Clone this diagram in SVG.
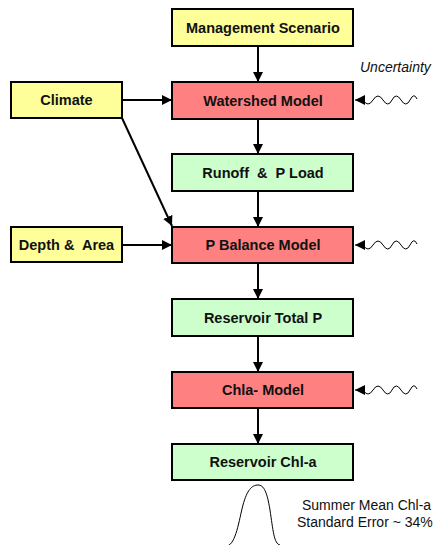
<svg xmlns="http://www.w3.org/2000/svg" width="436" height="545" viewBox="0 0 436 545">
  <style>
    .box { stroke: #000; stroke-width: 2; }
    .input { fill: #FFFF99; }
    .model { fill: #FF8080; }
    .output { fill: #CCFFCC; }
    .label { font-family: "Liberation Sans", Arial, sans-serif; font-weight: bold; font-size: 14.5px; fill: #111; text-anchor: middle; white-space: pre; }
    .note { font-family: "Liberation Sans", Arial, sans-serif; font-size: 14px; fill: #111; white-space: pre; }
    .edge { stroke: #000; stroke-width: 2; fill: none; }
    .wave { stroke: #000; stroke-width: 1; fill: none; }
  </style>
  <defs>
    <marker id="arrow" markerUnits="userSpaceOnUse" markerWidth="10" markerHeight="10" refX="10" refY="5" orient="auto" viewBox="0 0 10 10">
      <path d="M0,0 L10,5 L0,10 z" fill="#000"/>
    </marker>
  </defs>

  <rect width="436" height="545" fill="#fff"/>

  <!-- connectors -->
  <g id="connectors">
    <line class="edge" x1="258" y1="46" x2="258" y2="82" marker-end="url(#arrow)"/>
    <line class="edge" x1="258" y1="119" x2="258" y2="154" marker-end="url(#arrow)"/>
    <line class="edge" x1="258" y1="191" x2="258" y2="227" marker-end="url(#arrow)"/>
    <line class="edge" x1="258" y1="263" x2="258" y2="299" marker-end="url(#arrow)"/>
    <line class="edge" x1="258" y1="336" x2="258" y2="372" marker-end="url(#arrow)"/>
    <line class="edge" x1="258" y1="408" x2="258" y2="444" marker-end="url(#arrow)"/>
    <line class="edge" x1="122" y1="100" x2="172" y2="100" marker-end="url(#arrow)"/>
    <line class="edge" x1="122" y1="118" x2="172" y2="226" marker-end="url(#arrow)"/>
    <line class="edge" x1="122" y1="245" x2="172" y2="245" marker-end="url(#arrow)"/>
    <!-- uncertainty inputs -->
    <path class="wave" d="M364,100 L355,100" stroke-width="2" marker-end="url(#arrow)"/>
    <path class="wave" d="M363,100 Q368,108 373,100 T383,100 T392,100 T401,100 T410,100 T417,99"/>
    <path class="wave" d="M364,245 L355,245" stroke-width="2" marker-end="url(#arrow)"/>
    <path class="wave" d="M363,245 Q368,253 373,245 T383,245 T392,245 T401,245 T410,245 T417,244"/>
    <path class="wave" d="M364,390 L355,390" stroke-width="2" marker-end="url(#arrow)"/>
    <path class="wave" d="M363,390 Q368,398 373,390 T383,390 T392,390 T401,390 T410,390 T417,389"/>
  </g>

  <g id="management-scenario">
    <rect class="box input" x="172" y="9" width="181" height="37"/>
    <text class="label" x="263" y="33">Management Scenario</text>
  </g>
  <g id="climate">
    <rect class="box input" x="11" y="82" width="111" height="36"/>
    <text class="label" x="66.5" y="105">Climate</text>
  </g>
  <g id="watershed-model">
    <rect class="box model" x="172" y="82" width="181" height="37"/>
    <text class="label" x="263" y="105.5">Watershed Model</text>
  </g>
  <g id="runoff-p-load">
    <rect class="box output" x="172" y="154" width="181" height="37"/>
    <text class="label" x="263" y="177.5">Runoff  &amp;  P Load</text>
  </g>
  <g id="depth-area">
    <rect class="box input" x="11" y="227" width="111" height="35"/>
    <text class="label" x="66.5" y="249.5">Depth &amp;  Area</text>
  </g>
  <g id="p-balance-model">
    <rect class="box model" x="172" y="227" width="181" height="36"/>
    <text class="label" x="263" y="250">P Balance Model</text>
  </g>
  <g id="reservoir-total-p">
    <rect class="box output" x="172" y="299" width="181" height="37"/>
    <text class="label" x="263" y="322.5">Reservoir Total P</text>
  </g>
  <g id="chla-model">
    <rect class="box model" x="172" y="372" width="181" height="36"/>
    <text class="label" x="263" y="395">Chla- Model</text>
  </g>
  <g id="reservoir-chla">
    <rect class="box output" x="172" y="444" width="181" height="36"/>
    <text class="label" x="263" y="467">Reservoir Chl-a</text>
  </g>

  <text class="note" x="360" y="72" font-style="italic">Uncertainty</text>

  <!-- output distribution -->
  <path class="wave" d="M227,546 C236,544 239,520 243,505 C247,490 252,485 258,485 C264,485 267,492 270,510 C273,530 274,544 280,545"/>
  <text class="note" x="302" y="510">Summer Mean Chl-a</text>
  <text class="note" x="297" y="527">Standard Error ~ 34%</text>
</svg>
